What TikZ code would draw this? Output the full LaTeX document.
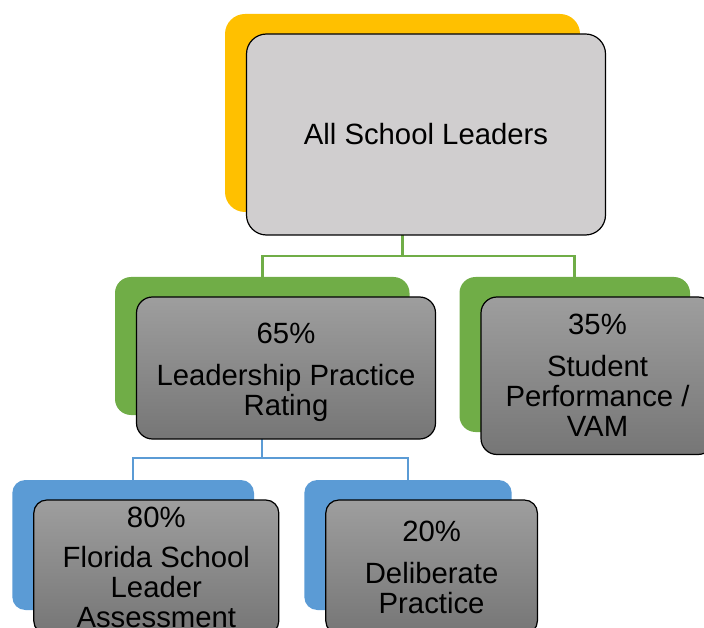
\documentclass[tikz,border=0pt]{standalone}
\usepackage{fontspec}
\setmainfont{Liberation Sans}
\usetikzlibrary{calc}
\definecolor{YellowClr}{RGB}{255,192,0}
\definecolor{GreenClr}{RGB}{112,173,71}
\definecolor{BlueClr}{RGB}{91,155,213}
\definecolor{TopClr}{RGB}{208,206,207}
\definecolor{GrayTopClr}{RGB}{158,158,158}
\definecolor{GrayBotClr}{RGB}{118,118,118}

\begin{document}
\begin{tikzpicture}[x=1pt,y=-1pt,
  font=\fontsize{29.3}{30}\selectfont,
  backbox/.style={inner sep=0pt,outer sep=0pt,anchor=north west},
  frontof/.style={draw=black,line width=1.2pt,inner sep=0pt,outer sep=0pt,align=center,
    anchor=north west,at={([shift={(21.5,20)}]#1.north west)}},
  shadebox/.style={top color=GrayTopClr,bottom color=GrayBotClr},
  greenlink/.style={GreenClr,line width=2.7pt},
  bluelink/.style={BlueClr,line width=2.3pt}]
\useasboundingbox (0,0) rectangle (704,628);
\clip (0,0) rectangle (704,628);

% Coloured boxes behind each level.
\node[backbox,fill=YellowClr,rounded corners=20pt,minimum width=355pt,minimum height=198pt] (topBack) at (225,14) {};
\node[backbox,fill=GreenClr,rounded corners=16pt,minimum width=294.5pt,minimum height=138pt] (lprBack) at (115,277) {};
\node[backbox,fill=GreenClr,rounded corners=16pt,minimum width=230.5pt,minimum height=155pt] (spvBack) at (459.5,277) {};
\node[backbox,fill=BlueClr,rounded corners=13pt,minimum width=241.7pt,minimum height=130pt] (fslaBack) at (12.3,480) {};
\node[backbox,fill=BlueClr,rounded corners=13pt,minimum width=207.4pt,minimum height=130pt] (dpBack) at (304.3,480) {};

% Connectors between the levels.
\draw[greenlink] (topBack.south) -- ++(0,44) -| (lprBack.north);
\draw[greenlink] (topBack.south) -- ++(0,44) -| (spvBack.north);
\draw[bluelink] (lprBack.south) -- ++(0,42.7) -| (fslaBack.north);
\draw[bluelink] (lprBack.south) -- ++(0,42.7) -| (dpBack.north);

% Draw the boxes with the texts.
\node[frontof=topBack,fill=TopClr,rounded corners=20pt,minimum width=359pt,minimum height=201pt] (top) {All School Leaders};
\node[frontof=lprBack,shadebox,rounded corners=16pt,minimum width=299pt,minimum height=142pt] (lpr) {\rule{0pt}{29pt}65\%\\[12pt]Leadership Practice\\Rating};
\node[frontof=spvBack,shadebox,rounded corners=16pt,minimum width=233pt,minimum height=157.5pt] (spv) {35\%\\[12pt]Student\\Performance /\\VAM};
\node[frontof=fslaBack,shadebox,rounded corners=13pt,minimum width=245pt,minimum height=134pt] (fsla) {80\%\\[10pt]Florida School\\Leader\\Assessment};
\node[frontof=dpBack,shadebox,rounded corners=13pt,minimum width=211.6pt,minimum height=134pt] (dp) {20\%\\[12pt]Deliberate\\Practice};

\end{tikzpicture}
\end{document}
